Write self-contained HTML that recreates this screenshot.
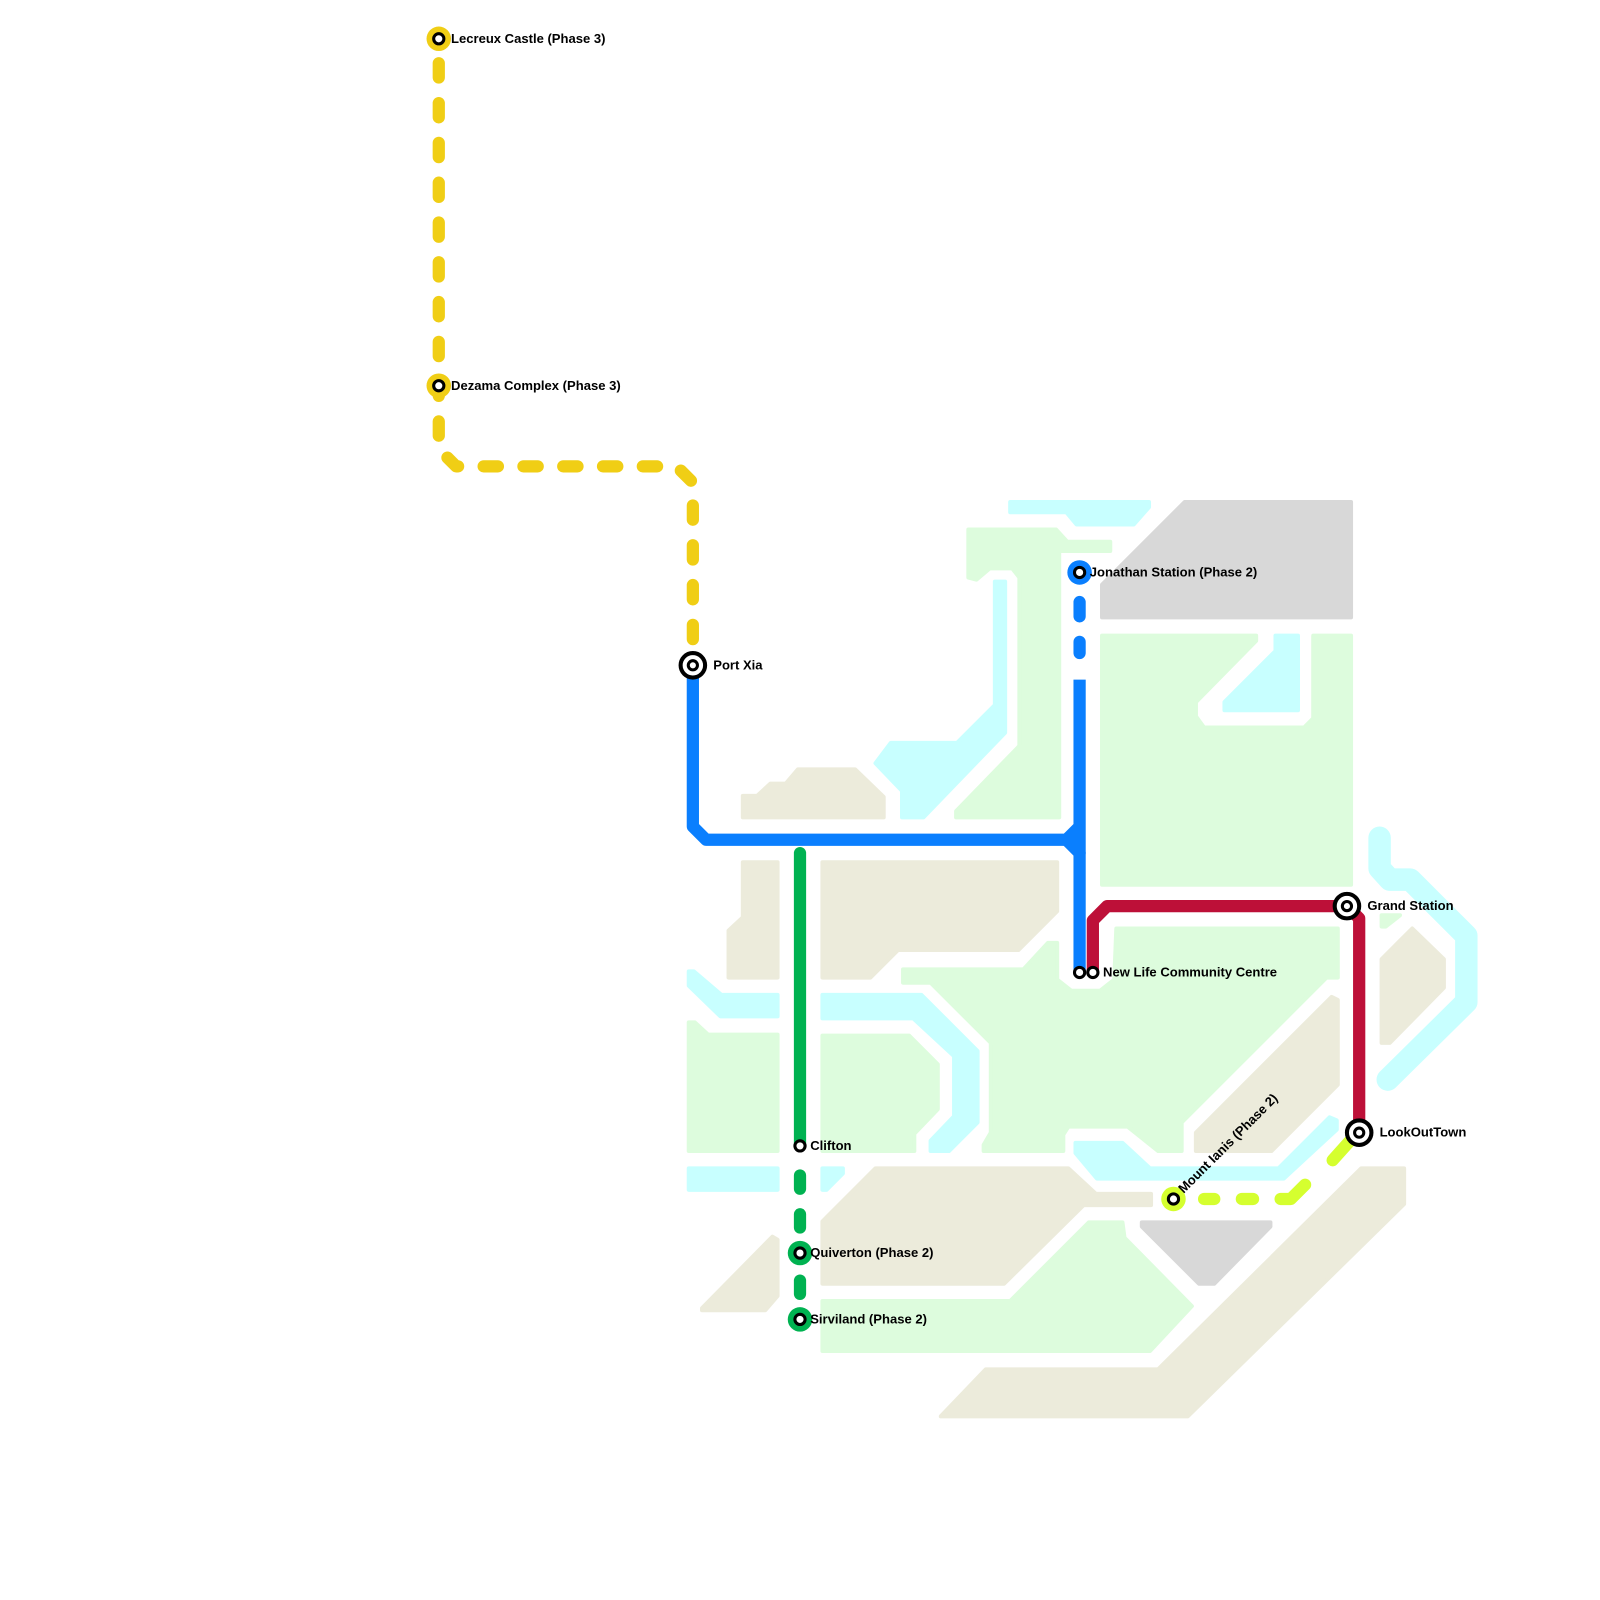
<!DOCTYPE html>
<html><head><meta charset="utf-8"><style>
html,body{margin:0;padding:0;background:#fff;}
svg{display:block;}
text{font-family:"Liberation Sans",Arial,sans-serif;font-weight:bold;font-size:12.8px;fill:#000;}
</style></head><body>
<svg width="1600" height="1600" viewBox="0 0 1568 1568" xmlns="http://www.w3.org/2000/svg">
<g stroke-linejoin="round">
<g fill="#c8ffff" stroke="#c8ffff" stroke-width="4">
<polygon points="990,492 1126,492 1126,497 1111,514 1055,514 1045,502 990,502"/>
<polygon points="975,570 985,570 985,718 905,801 884,801 884,775 858,748 873,728 938,728 975,691"/>
<polygon points="1250,623 1272,623 1272,696 1200,696 1200,688 1250,638"/>
<polygon points="675,952 680,952 707,975 762,975 762,996 706,996 675,966"/>
<polygon points="806,975 903,975 958,1030 958,1100 930,1128 912,1128 912,1118 935,1094 935,1035 895,998 806,998"/>
<polygon points="1054,1120 1100,1120 1127,1145 1253,1145 1303,1095 1310,1098 1310,1107 1258,1155 1075,1155 1054,1130"/>
<polygon points="675,1145 762,1145 762,1166 675,1166"/>
<polygon points="806,1145 826,1145 826,1150 810,1166 806,1166"/>
</g>
<polyline points="1352,821 1352,851 1362,862 1382,862 1437,917 1437,982 1360,1058" fill="none" stroke="#c8ffff" stroke-width="22" stroke-linecap="round"/>
<g fill="#ddfcdd" stroke="#ddfcdd" stroke-width="4">
<polygon points="949,519 1035,519 1046,531 1088,531 1088,540 1038,540 1038,801 937,801 937,795 999,731 999,566 992,557 970,557 957,568 949,566"/>
<polygon points="1080,623 1231,623 1231,628 1172,688 1172,702 1180,713 1278,713 1287,704 1287,623 1324,623 1324,867 1080,867"/>
<polygon points="675,1002 681,1002 694,1014 762,1014 762,1128 675,1128"/>
<polygon points="806,1015 891,1015 919,1043 919,1087 896,1111 896,1128 806,1128"/>
<polygon points="885,950 1003,950 1027,924 1036,924 1036,960 1050,971 1078,971 1092,960 1094,910 1311,910 1311,958 1300,958 1158,1100 1158,1128 1135,1128 1105,1104 1047,1104 1042,1112 1042,1128 964,1128 964,1122 971,1110 971,1022 912,963 885,963"/>
<polygon points="806,1275 990,1275 1067,1198 1100,1198 1102,1213 1168,1280 1127,1324 806,1324"/>
<polygon points="1354,897 1372,897 1358,908 1354,908"/>
</g>
<g fill="#ecebdb" stroke="#ecebdb" stroke-width="4">
<polygon points="728,780 742,780 755,768 770,768 782,754 838,754 866,781 866,801 728,801"/>
<polygon points="806,845 1036,845 1036,893 998,931 880,931 853,958 806,958"/>
<polygon points="728,845 762,845 762,958 714,958 714,912 728,899"/>
<polygon points="1354,940 1384,910 1415,940 1415,968 1362,1022 1354,1022"/>
<polygon points="1172,1110 1305,977 1311,980 1311,1063 1246,1128 1172,1128"/>
<polygon points="806,1197 858,1145 1047,1145 1074,1170 1128,1170 1128,1181 1062,1181 984,1258 806,1258"/>
<polygon points="922,1388 966,1342 1135,1342 1334,1145 1376,1145 1376,1180 1164,1388"/>
<polygon points="688,1282 757,1212 762,1215 762,1270 750,1284 688,1284"/>
</g>
<g fill="#d8d8d8" stroke="#d8d8d8" stroke-width="4">
<polygon points="1161,492 1324,492 1324,605 1080,605 1080,573"/>
<polygon points="1119,1198 1245,1198 1245,1202 1190,1258 1175,1258 1119,1202"/>
</g>
</g>
<g fill="none" stroke-linecap="round" stroke-linejoin="round">
<polyline points="430,38 430,440 447,457 663,457 679,473 679,640" stroke="#f0ce15" stroke-width="12" stroke-dasharray="14 25" stroke-dashoffset="-24"/>
<polyline points="679,652 679,810 692,823 1045,823 1058,810" stroke="#0a7ffe" stroke-width="12" stroke-linecap="butt"/>
<polyline points="1045,823 1058,836" stroke="#0a7ffe" stroke-width="12"/>
<line x1="1058" y1="666" x2="1058" y2="953" stroke="#0a7ffe" stroke-width="12" stroke-linecap="butt"/>
<line x1="1058" y1="590" x2="1058" y2="640" stroke="#0a7ffe" stroke-width="12" stroke-dasharray="14 25"/>
<polyline points="1071,953 1071,902 1085,888 1320,888 1332,900 1332,1108" stroke="#bd1038" stroke-width="12" stroke-linecap="butt"/>
<line x1="784" y1="836" x2="784" y2="1123" stroke="#00b251" stroke-width="12"/>
<g stroke="#00b251" stroke-width="12">
<line x1="784" y1="1152" x2="784" y2="1165"/>
<line x1="784" y1="1190" x2="784" y2="1203"/>
<line x1="784" y1="1255" x2="784" y2="1268"/>
</g>
<polyline points="1332,1108 1306,1137" stroke="#d5ff2f" stroke-width="12"/>
<g stroke="#d5ff2f" stroke-width="12">
<line x1="1180" y1="1175" x2="1190" y2="1175"/>
<line x1="1217" y1="1175" x2="1228" y2="1175"/>
<polyline points="1255,1175 1265,1175 1279,1161"/>
</g>
</g>
<g stroke="#000">
<circle cx="430" cy="38" r="12" fill="#f0ce15" stroke="none"/>
<circle cx="430" cy="38" r="5" fill="#fff" stroke-width="3"/>
<circle cx="430" cy="378" r="12" fill="#f0ce15" stroke="none"/>
<circle cx="430" cy="378" r="5" fill="#fff" stroke-width="3"/>
<circle cx="1058" cy="561" r="12" fill="#0a7ffe" stroke="none"/>
<circle cx="1058" cy="561" r="5" fill="#fff" stroke-width="3"/>
<circle cx="784" cy="1228" r="12" fill="#00b251" stroke="none"/>
<circle cx="784" cy="1228" r="5" fill="#fff" stroke-width="3"/>
<circle cx="784" cy="1293" r="12" fill="#00b251" stroke="none"/>
<circle cx="784" cy="1293" r="5" fill="#fff" stroke-width="3"/>
<circle cx="1150" cy="1175" r="12" fill="#d5ff2f" stroke="none"/>
<circle cx="1150" cy="1175" r="5" fill="#fff" stroke-width="3"/>
<circle cx="784" cy="1123" r="5" fill="#fff" stroke-width="3"/>
<circle cx="1058" cy="953" r="5" fill="#fff" stroke-width="3"/>
<circle cx="1071" cy="953" r="5" fill="#fff" stroke-width="3"/>
<g fill="#fff">
<circle cx="679" cy="652" r="12" stroke-width="4"/><circle cx="679" cy="652" r="4.5" stroke-width="3"/>
<circle cx="1320" cy="888" r="12" stroke-width="4"/><circle cx="1320" cy="888" r="4.5" stroke-width="3"/>
<circle cx="1332" cy="1110" r="12" stroke-width="4"/><circle cx="1332" cy="1110" r="4.5" stroke-width="3"/>
</g>
</g>
<text x="442" y="42">Lecreux Castle (Phase 3)</text>
<text x="442" y="382">Dezama Complex (Phase 3)</text>
<text x="699" y="656">Port Xia</text>
<text x="1068" y="565">Jonathan Station (Phase 2)</text>
<text x="1340" y="892">Grand Station</text>
<text x="1081" y="957">New Life Community Centre</text>
<text x="1352" y="1114">LookOutTown</text>
<text x="794" y="1127">Clifton</text>
<text x="794" y="1232">Quiverton (Phase 2)</text>
<text x="794" y="1297">Sirviland (Phase 2)</text>
<text x="1160" y="1170" transform="rotate(-45 1160 1170)">Mount Ianis (Phase 2)</text>
</svg>
</body></html>
